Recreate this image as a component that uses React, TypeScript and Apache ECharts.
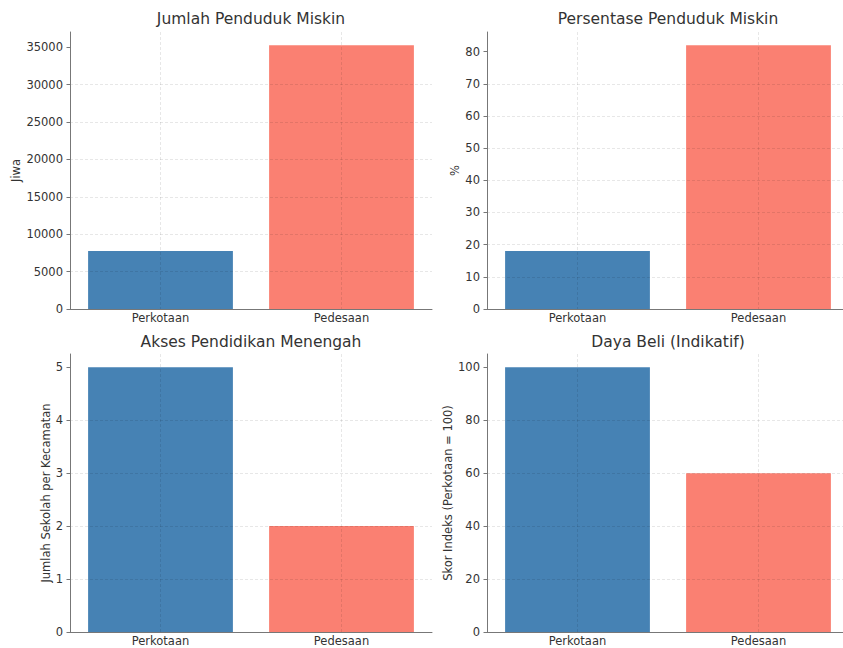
import React, { useEffect, useRef } from "react";
import * as echarts from "echarts";

const categories = ["Perkotaan", "Pedesaan"];
const jumlahMiskin = [7740, 35260];
const persenMiskin = [18, 82];
const sekolahPerKecamatan = [5, 2];
const dayaBeli = [100, 60];
const barColors = ["#4682B4", "#FA8072"];

const ticksJumlah = [0, 5000, 10000, 15000, 20000, 25000, 30000, 35000];
const ticksPersen = [0, 10, 20, 30, 40, 50, 60, 70, 80];
const ticksSekolah = [0, 1, 2, 3, 4, 5];
const ticksDayaBeli = [0, 20, 40, 60, 80, 100];

const titles = [
  "Jumlah Penduduk Miskin",
  "Persentase Penduduk Miskin",
  "Akses Pendidikan Menengah",
  "Daya Beli (Indikatif)",
];
const yNames = ["Jiwa", "%", "Jumlah Sekolah per Kecamatan", "Skor Indeks (Perkotaan = 100)"];

const FONT = "DejaVu Sans";
const TEXT = "#333333";
const SPINE = "#777777";

export default function App() {
  const ref = useRef<HTMLDivElement>(null);
  useEffect(() => {
    if (!ref.current) return;
    const chart = echarts.init(ref.current, undefined, { renderer: "svg" });
    const panels = [
      { values: jumlahMiskin, ticks: ticksJumlah, interval: 5000, nameGap: 48 },
      { values: persenMiskin, ticks: ticksPersen, interval: 10, nameGap: 24 },
      { values: sekolahPerKecamatan, ticks: ticksSekolah, interval: 1, nameGap: 17 },
      { values: dayaBeli, ticks: ticksDayaBeli, interval: 20, nameGap: 32 },
    ];
    const grids = [
      { left: 70, top: 32, width: 362, height: 277 },
      { left: 487, top: 32, width: 362, height: 277 },
      { left: 70, top: 354, width: 362, height: 278 },
      { left: 487, top: 354, width: 362, height: 278 },
    ];
    const titleCenters = [
      { x: 251, y: 11 },
      { x: 668, y: 11 },
      { x: 251, y: 334 },
      { x: 668, y: 334 },
    ];
    const gridLine = { color: "rgba(0,0,0,0.12)", width: 0.8, type: [3, 2] as any };
    const option: any = {
      animation: false,
      textStyle: { fontFamily: FONT },
      title: titles.map((t, i) => ({
        text: t,
        left: titleCenters[i].x,
        top: titleCenters[i].y,
        textAlign: "center",
        padding: 0,
        textStyle: { fontFamily: FONT, fontSize: 15.5, fontWeight: "normal", color: TEXT },
      })),
      grid: grids.map((g) => ({ ...g, containLabel: false, outerBoundsMode: "none" })),
      xAxis: panels.map((_, i) => ({
        type: "category",
        gridIndex: i,
        data: categories,
        z: 5,
        axisLine: { lineStyle: { color: SPINE, width: 1 } },
        axisTick: { alignWithLabel: true, length: 3.5, lineStyle: { color: SPINE } },
        axisLabel: { fontFamily: FONT, fontSize: 11.5, color: TEXT, margin: 3 },
        splitLine: { show: true, alignWithLabel: true, lineStyle: gridLine },
      })),
      yAxis: panels.map((p, i) => ({
        type: "value",
        gridIndex: i,
        min: 0,
        max: Math.max(...p.values) * 1.05,
        interval: p.interval,
        z: 5,
        name: yNames[i],
        nameLocation: "middle",
        nameGap: p.nameGap,
        nameTextStyle: { fontFamily: FONT, fontSize: 11.5, color: TEXT },
        axisLine: { show: true, lineStyle: { color: SPINE, width: 1 } },
        axisTick: { show: true, length: 3.5, lineStyle: { color: SPINE }, customValues: p.ticks },
        axisLabel: {
          fontFamily: FONT,
          fontSize: 11.5,
          color: TEXT,
          margin: 7,
          customValues: p.ticks,
          formatter: (v: number) => String(v),
        },
        splitLine: { show: true, showMaxLine: false, showMinLine: false, lineStyle: gridLine },
      })),
      series: panels.map((p, i) => ({
        type: "bar",
        xAxisIndex: i,
        yAxisIndex: i,
        barWidth: "80%",
        data: p.values.map((v, j) => ({ value: v, itemStyle: { color: barColors[j] } })),
      })),
    };
    chart.setOption(option);
    return () => chart.dispose();
  }, []);
  return (
    <div
      ref={ref}
      style={{ position: "fixed", left: 0, top: 0, width: 843, height: 648, background: "#fff" }}
    />
  );
}
